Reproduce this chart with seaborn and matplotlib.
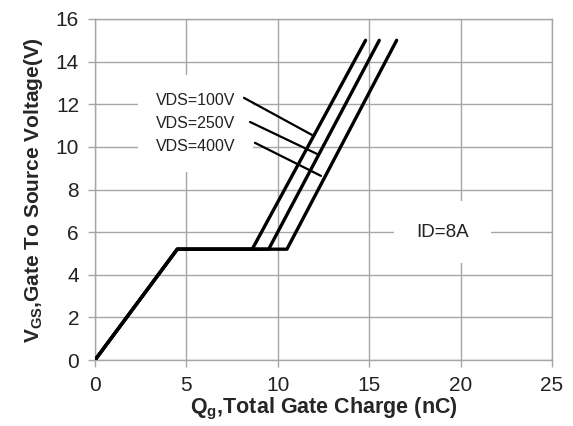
import matplotlib
matplotlib.use('Agg')
import matplotlib.pyplot as plt
import seaborn as sns
import pandas as pd

# gate charge curves (Qg in nC, Vgs in V)
vds_labels = ['VDS=100V', 'VDS=250V', 'VDS=400V']
qg_100 = [0, 4.5, 8.6, 14.8]
qg_250 = [0, 4.5, 9.5, 15.55]
qg_400 = [0, 4.5, 10.5, 16.5]
vgs = [0, 5.2, 5.2, 15.0]

# leader lines from the labels to the curves
lead_x = [[8.15, 11.87], [8.48, 12.14], [8.75, 12.36]]
lead_y = [[12.3, 10.56], [11.17, 9.67], [10.19, 8.64]]

x_ticks = [0, 5, 10, 15, 20, 25]
y_ticks = [0, 2, 4, 6, 8, 10, 12, 14, 16]

rows = []
for lab, qs in zip(vds_labels, [qg_100, qg_250, qg_400]):
    for q, v in zip(qs, vgs):
        rows.append({'vds': lab, 'qg': q, 'vgs': v})
df = pd.DataFrame(rows)

sns.set_style('white')
plt.rcParams['font.family'] = ['Liberation Sans', 'DejaVu Sans']
plt.rcParams['mathtext.fontset'] = 'custom'
plt.rcParams['mathtext.rm'] = 'Liberation Sans'

fig = plt.figure(figsize=(5.73, 4.26), dpi=100)
ax = fig.add_axes([0.1658, 0.1549, 0.7976, 0.8005])

grid_c = '#a6a6a6'
ax.set_axisbelow(True)
ax.grid(True, color=grid_c, linewidth=1.0)
for s in ax.spines.values():
    s.set_color(grid_c)
    s.set_linewidth(1.0)

sns.lineplot(data=df, x='qg', y='vgs', hue='vds', palette=['black'] * 3,
             sort=False, estimator=None, units='vds', legend=False,
             linewidth=2.4, ax=ax, zorder=4)

for xs, ys in zip(lead_x, lead_y):
    ax.plot(xs, ys, color='black', linewidth=1.6, zorder=3)

ax.text(5.5, 11.1, '\n'.join(vds_labels), ha='center', va='center',
        fontsize=11.5, color='#222222', linespacing=1.7, zorder=2,
        bbox=dict(boxstyle='square,pad=1.1', fc='white', ec='none'))
ax.text(19.0, 6.0, 'ID=8A', ha='center', va='center', fontsize=13.5,
        color='#222222', zorder=2,
        bbox=dict(boxstyle='square,pad=1.2', fc='white', ec='none'))

ax.set_xlim(0, 25)
ax.set_ylim(0, 16)
ax.set_xticks(x_ticks)
ax.set_yticks(y_ticks)
ax.tick_params(axis='both', length=5, color=grid_c, width=1.0,
               labelsize=15, labelcolor='#222222', pad=6.5, direction='out',
               bottom=True, left=True)

ax.set_xlabel('Q$_{\\mathregular{g}}$,Total Gate Charge (nC)', fontsize=15.5,
              fontweight='bold', labelpad=1)
ax.set_ylabel('V$_{\\mathregular{GS}}$,Gate To Source Voltage(V)', fontsize=15,
              fontweight='bold', labelpad=8)

fig.savefig('out.png', dpi=100)
